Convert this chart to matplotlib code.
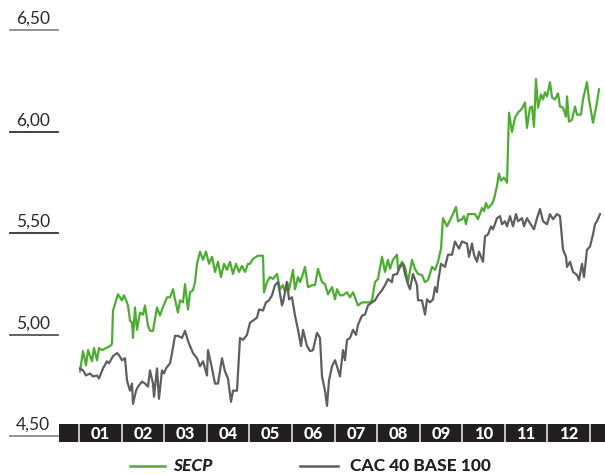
import matplotlib
matplotlib.use("Agg")
import matplotlib.pyplot as plt
from matplotlib.lines import Line2D
from matplotlib.transforms import blended_transform_factory

# x = trading day from the start of the year, y = price in euros
secp_days = [0.5, 2, 3.5, 4.5, 6.5, 7.5, 9, 10, 11.5, 13.5, 15.5, 16.5, 17, 19.5, 21.5, 22.5,
             24.5, 25.5, 26.5, 27, 28, 29, 30.5, 32, 33, 34.5, 35.5, 37, 39, 40.5, 41.5, 44,
             45.5, 47, 48, 49.5, 50.5, 52, 53, 54.5, 55.5, 57, 58, 59, 60.5, 62, 63.5, 65,
             66.5, 68, 69.5, 71, 72.5, 74, 75.5, 77, 78.5, 80, 81.5, 83, 84.5, 85.5, 87, 89.5,
             92, 92.5, 94, 95.5, 97, 99, 100.5, 102, 103, 104, 105, 107, 108, 109.5, 110.5, 112,
             113, 114.5, 116.5, 118, 119.5, 121.5, 123, 124.5, 126.5, 128, 129, 130.5, 132, 134,
             135.5, 137, 139.5, 141.5, 144, 145.5, 146.5, 148, 149.5, 151.5, 153, 154.5, 155.5,
             157, 159, 159.5, 161.5, 163, 164.5, 166.5, 168, 169.5, 171.5, 173, 174.5, 176.5,
             178, 179.5, 181, 182, 184, 186.5, 188.5, 189.5, 191.5, 192.5, 193.5, 194.5, 198,
             199.5, 201.5, 202.5, 203.5, 204.5, 206.5, 207.5, 209, 210, 211, 212.5, 214, 215,
             216.5, 218, 219.5, 221.5, 223, 224, 225.5, 226.5, 227.5, 228.5, 229.5, 231, 232,
             233, 234, 235.5, 236.5, 238, 239.5, 240.5, 242, 243.5, 244, 245, 246.5, 248, 249,
             251, 252, 254, 255, 257, 259, 260]
secp = [4.82, 4.92, 4.85, 4.925, 4.87, 4.935, 4.875, 4.935, 4.925, 4.935, 4.945, 4.955, 5.12,
        5.20, 5.17, 5.195, 5.145, 5.07, 5.06, 4.985, 5.135, 5.025, 5.11, 5.10, 5.145, 5.045,
        5.02, 5.02, 5.135, 5.095, 5.125, 5.185, 5.185, 5.225, 5.175, 5.11, 5.17, 5.16, 5.25,
        5.125, 5.21, 5.22, 5.26, 5.35, 5.41, 5.37, 5.41, 5.35, 5.385, 5.31, 5.36, 5.285, 5.35,
        5.32, 5.36, 5.30, 5.35, 5.31, 5.34, 5.31, 5.35, 5.35, 5.375, 5.39, 5.39, 5.21, 5.26,
        5.285, 5.275, 5.30, 5.225, 5.245, 5.21, 5.26, 5.22, 5.32, 5.225, 5.285, 5.26, 5.30,
        5.335, 5.235, 5.245, 5.245, 5.325, 5.26, 5.25, 5.20, 5.235, 5.175, 5.225, 5.195, 5.195,
        5.21, 5.185, 5.21, 5.145, 5.16, 5.16, 5.16, 5.17, 5.26, 5.275, 5.385, 5.31, 5.37, 5.325,
        5.37, 5.395, 5.325, 5.36, 5.335, 5.26, 5.37, 5.325, 5.30, 5.295, 5.26, 5.27, 5.335,
        5.32, 5.36, 5.425, 5.575, 5.535, 5.585, 5.63, 5.56, 5.57, 5.585, 5.545, 5.595, 5.595,
        5.57, 5.625, 5.61, 5.65, 5.625, 5.645, 5.67, 5.735, 5.795, 5.76, 5.775, 5.75, 6.095,
        6.00, 6.07, 6.095, 6.115, 6.145, 6.02, 6.12, 6.125, 6.025, 6.26, 6.12, 6.185, 6.16,
        6.195, 6.175, 6.245, 6.17, 6.16, 6.19, 6.125, 6.12, 6.075, 6.175, 6.05, 6.06, 6.125,
        6.085, 6.085, 6.16, 6.245, 6.16, 6.045, 6.145, 6.21]

cac_days = [0.5, 2, 3.5, 5.5, 7, 9, 10, 12, 14, 15, 17, 19, 20, 21.5, 23, 24, 25.5, 26.5, 27,
            28.5, 29.5, 31.5, 33, 34.5, 35.5, 37, 37.5, 39, 40, 41.5, 42.5, 43.5, 45.5, 46.5,
            48, 49.5, 51.5, 53, 54.5, 55.5, 57, 59, 60.5, 62, 64, 64.5, 66.5, 68, 69.5, 71.5,
            73, 74.5, 76, 77, 79, 80.5, 82, 84, 85.5, 87, 89, 90, 92, 93.5, 95, 96.5, 98, 99.5,
            101.5, 102, 104, 105, 106.5, 108, 109.5, 111, 112, 114, 115.5, 117, 119, 120.5,
            121.5, 123, 124, 125, 126.5, 128, 129, 130.5, 132, 133, 134, 135.5, 137, 138.5,
            139.5, 141.5, 143, 144.5, 146.5, 148, 149.5, 151.5, 153, 154.5, 156.5, 157, 159,
            160.5, 162, 163, 164.5, 165.5, 167, 169, 169.5, 171.5, 173, 174, 175.5, 177, 178,
            179, 179.5, 181, 183, 184.5, 186.5, 188, 190, 191.5, 194, 195, 196.5, 197.5, 199,
            200, 202, 203, 204.5, 206, 207, 209, 210.5, 211.5, 213, 214, 215.5, 217, 218.5,
            219.5, 221.5, 222.5, 224, 225.5, 227.5, 229, 230.5, 232, 234, 235.5, 237, 239,
            240.5, 242, 243.5, 244, 245.5, 247, 249, 250, 251.5, 252.5, 254, 255.5, 257, 258,
            259, 260.5]
cac = [4.835, 4.825, 4.80, 4.81, 4.795, 4.80, 4.785, 4.835, 4.87, 4.86, 4.895, 4.91, 4.90,
       4.875, 4.885, 4.775, 4.725, 4.76, 4.66, 4.725, 4.745, 4.77, 4.76, 4.745, 4.825, 4.76,
       4.695, 4.835, 4.685, 4.825, 4.81, 4.835, 4.86, 4.91, 4.995, 4.995, 4.985, 5.02, 4.97,
       4.945, 4.91, 4.885, 4.845, 4.87, 4.80, 4.925, 4.835, 4.76, 4.76, 4.885, 4.82, 4.785,
       4.67, 4.725, 4.725, 4.985, 4.975, 5.00, 5.06, 5.07, 5.085, 5.125, 5.12, 5.16, 5.17,
       5.195, 5.245, 5.26, 5.145, 5.16, 5.26, 5.175, 5.185, 5.095, 5.025, 4.945, 5.025, 4.945,
       4.92, 4.925, 5.01, 4.985, 4.795, 4.725, 4.65, 4.775, 4.845, 4.875, 4.845, 4.795, 4.925,
       4.875, 4.975, 4.985, 5.025, 5.00, 5.05, 5.095, 5.10, 5.145, 5.16, 5.17, 5.195, 5.22,
       5.245, 5.275, 5.26, 5.295, 5.30, 5.335, 5.35, 5.30, 5.25, 5.225, 5.30, 5.245, 5.17,
       5.17, 5.10, 5.175, 5.16, 5.175, 5.235, 5.21, 5.26, 5.35, 5.335, 5.395, 5.395, 5.46,
       5.425, 5.46, 5.45, 5.385, 5.45, 5.395, 5.36, 5.41, 5.36, 5.485, 5.495, 5.535, 5.52,
       5.575, 5.585, 5.545, 5.56, 5.535, 5.585, 5.535, 5.595, 5.56, 5.575, 5.535, 5.575, 5.55,
       5.52, 5.575, 5.62, 5.56, 5.545, 5.595, 5.57, 5.595, 5.585, 5.42, 5.385, 5.335, 5.36,
       5.31, 5.295, 5.27, 5.35, 5.285, 5.42, 5.435, 5.495, 5.545, 5.56, 5.595]

month_labels = ["01", "02", "03", "04", "05", "06", "07", "08", "09", "10", "11", "12"]
y_ticks = [4.5, 5.0, 5.5, 6.0, 6.5]
y_tick_labels = ["4,50", "5,00", "5,50", "6,00", "6,50"]

GREEN = "#4cad31"
GREY = "#5f5e60"
DARK = "#231f20"
W, H = 605, 475
month_len = 255.5 / 12

fig = plt.figure(figsize=(W / 100, H / 100), dpi=100)

# main plot area
ax = fig.add_axes([59 / W, (H - 440) / H, 546 / W, 412 / H])
ax.plot(secp_days, secp, color=GREEN, lw=1.6, solid_joinstyle="round")
ax.plot(cac_days, cac, color=GREY, lw=1.6, solid_joinstyle="round")
ax.set_xlim(-10, 263)
ax.set_ylim(4.482, 6.512)
ax.axis("off")

# y labels sitting on short rules left of the plot
tr = blended_transform_factory(ax.transAxes, ax.transData)
rule_colors = ["#8a8a8a", "#555555", "#333333", "#333333", "#8a8a8a"]
for val, lab, c in zip(y_ticks, y_tick_labels, rule_colors):
    ax.plot([-0.0897, -0.002], [val, val], transform=tr, color=c, lw=1.3, clip_on=False)
    ax.annotate(lab, xy=(-0.079, val), xycoords=tr, xytext=(0, 2.5), textcoords="offset points",
                ha="left", va="bottom", fontsize=12.5, family="Lato", weight="normal", color="#2a2a2a")

# month band
bx = fig.add_axes([59 / W, (H - 442) / H, 546 / W, 18 / H])
bx.set_xlim(-10, 263)
bx.set_ylim(0, 1)
bx.set_facecolor("#231f20")
for s in ["top", "bottom", "left", "right"]:
    bx.spines[s].set_visible(False)
bx.set_xticks([])
bx.set_yticks([])
for k in range(13):
    bx.axvline(k * month_len, color="#e0e0e0", lw=1.2)
for k, lab in enumerate(month_labels):
    bx.text((k + 0.5) * month_len, 0.47, lab, ha="center", va="center", color="white",
            fontsize=12, family="Lato", weight="black")

# legend drawn by hand
fig.add_artist(Line2D([130 / W, 165 / W], [(H - 466) / H] * 2, color=GREEN, lw=1.8))
fig.text(173 / W, (H - 466) / H, "SECP", ha="left", va="center", fontsize=12.5,
         family="Lato", weight="black", style="italic", color=DARK)
fig.add_artist(Line2D([300 / W, 338 / W], [(H - 466) / H] * 2, color=GREY, lw=1.8))
fig.text(350 / W, (H - 466) / H, "CAC 40 BASE 100", ha="left", va="center", fontsize=12.5,
         family="Lato", weight="black", color=DARK)

fig.savefig("out.png", dpi=100)
